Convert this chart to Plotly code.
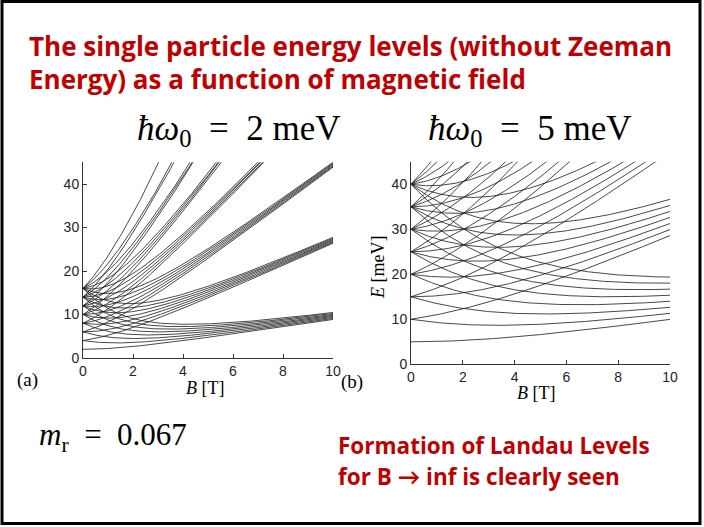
import numpy as np
import plotly.graph_objects as go

# ---- data (parameters shown on the slide) ----
hbar_omega0_meV = [2.0, 5.0]          # confinement energies of panels (a) and (b)
m_r = 0.067                           # effective mass ratio
B_field_T = np.linspace(0.0, 10.0, 201)
shell_max = 7                         # shells N = 2n+|l| shown (E(0) up to 8*hbar*omega0)
quantum_n = [(N - abs(l)) // 2 for N in range(shell_max + 1) for l in range(-N, N + 1) if (N - abs(l)) % 2 == 0]
quantum_l = [l for N in range(shell_max + 1) for l in range(-N, N + 1) if (N - abs(l)) % 2 == 0]
x_ticks = [0, 2, 4, 6, 8, 10]
y_ticks = [0, 10, 20, 30, 40]

HBAR_E_OVER_ME = 0.115768  # meV / T


def fock_darwin(w0):
    wc = HBAR_E_OVER_ME / m_r * B_field_T
    Om = np.sqrt(w0 ** 2 + wc ** 2 / 4.0)
    xs, ys = [], []
    for n, l in zip(quantum_n, quantum_l):
        E = (2 * n + abs(l) + 1) * Om - 0.5 * l * wc
        xs += list(B_field_T) + [None]
        ys += list(E) + [None]
    return xs, ys


W, H = 704, 527
def px(x): return x / W
def py(y): return 1 - y / H

fig = go.Figure()
xa, ya = fock_darwin(hbar_omega0_meV[0])
xb, yb = fock_darwin(hbar_omega0_meV[1])
fig.add_trace(go.Scatter(x=xa, y=ya, mode="lines", line=dict(color="#1a1a1a", width=0.8),
                         xaxis="x", yaxis="y", showlegend=False, hoverinfo="skip"))
fig.add_trace(go.Scatter(x=xb, y=yb, mode="lines", line=dict(color="#1a1a1a", width=0.8),
                         xaxis="x2", yaxis="y2", showlegend=False, hoverinfo="skip"))

tickfont = dict(family="Liberation Sans, Arial, sans-serif", size=14, color="#1f2233")
axis_common = dict(showgrid=False, zeroline=False, showline=True, linecolor="#333", linewidth=1,
                   ticks="inside", ticklen=4, tickcolor="#333", tickfont=tickfont, automargin=False)

fig.update_layout(
    width=W, height=H, margin=dict(l=0, r=0, t=0, b=0, autoexpand=False),
    paper_bgcolor="white", plot_bgcolor="white",
    xaxis=dict(domain=[px(83), px(333)], range=[0, 10], tickvals=x_ticks, anchor="y", **axis_common),
    yaxis=dict(domain=[py(358), py(162.3)], range=[0, 45], tickvals=y_ticks, anchor="x", **axis_common),
    xaxis2=dict(domain=[px(411), px(670)], range=[0, 10], tickvals=x_ticks, anchor="y2", **axis_common),
    yaxis2=dict(domain=[py(364.3), py(161.8)], range=[0, 45], tickvals=y_ticks, anchor="x2", **axis_common),
)

red = "#C00000"
sans_bold = "Open Sans, Lato, sans-serif"
serif = "Liberation Serif, DejaVu Serif, serif"
sp = "\u2002"

ann = []
def add(text, x, y, size, color="black", family=serif, xanchor="left", textangle=0):
    ann.append(dict(text=text, x=px(x), y=py(y), xref="paper", yref="paper", showarrow=False,
                    xanchor=xanchor, yanchor="middle", textangle=textangle,
                    font=dict(size=size, color=color, family=family)))

add("<b>The single particle energy levels (without Zeeman</b>", 27, 46, 26, red, sans_bold)
add("<b>Energy) as a function of magnetic field</b>", 27, 79, 26, red, sans_bold)
add(f"<i>ħω</i><sub>0</sub>{sp}={sp}2 meV", 239, 131, 35, xanchor="center")
add(f"<i>ħω</i><sub>0</sub>{sp}={sp}5 meV", 530, 131, 35, xanchor="center")
add("(a)", 27, 380, 19, xanchor="center")
add("(b)", 352, 382, 19, xanchor="center")
add("<i>B</i> [T]", 205, 388, 18, xanchor="center")
add("<i>B</i> [T]", 536, 393, 18, xanchor="center")
add("<i>E</i> [meV]", 378, 268, 18, xanchor="center", textangle=-90)
add(f"<i>m</i><sub>r</sub>{sp}={sp}0.067", 37, 437, 31)
add("<b>Formation of Landau Levels</b>", 336, 445, 22.5, red, sans_bold)
add("<b>for B → inf is clearly seen</b>", 336, 476, 22.5, red, sans_bold)
fig.update_layout(annotations=ann)

fig.add_shape(type="rect", xref="paper", yref="paper", x0=px(2), x1=px(700), y0=py(523.5), y1=py(1.5),
              line=dict(color="black", width=3))

fig.write_html("out.html", config={"displayModeBar": False},
               post_script="document.body.style.margin='0';document.body.style.padding='0';document.body.style.overflow='hidden';")
